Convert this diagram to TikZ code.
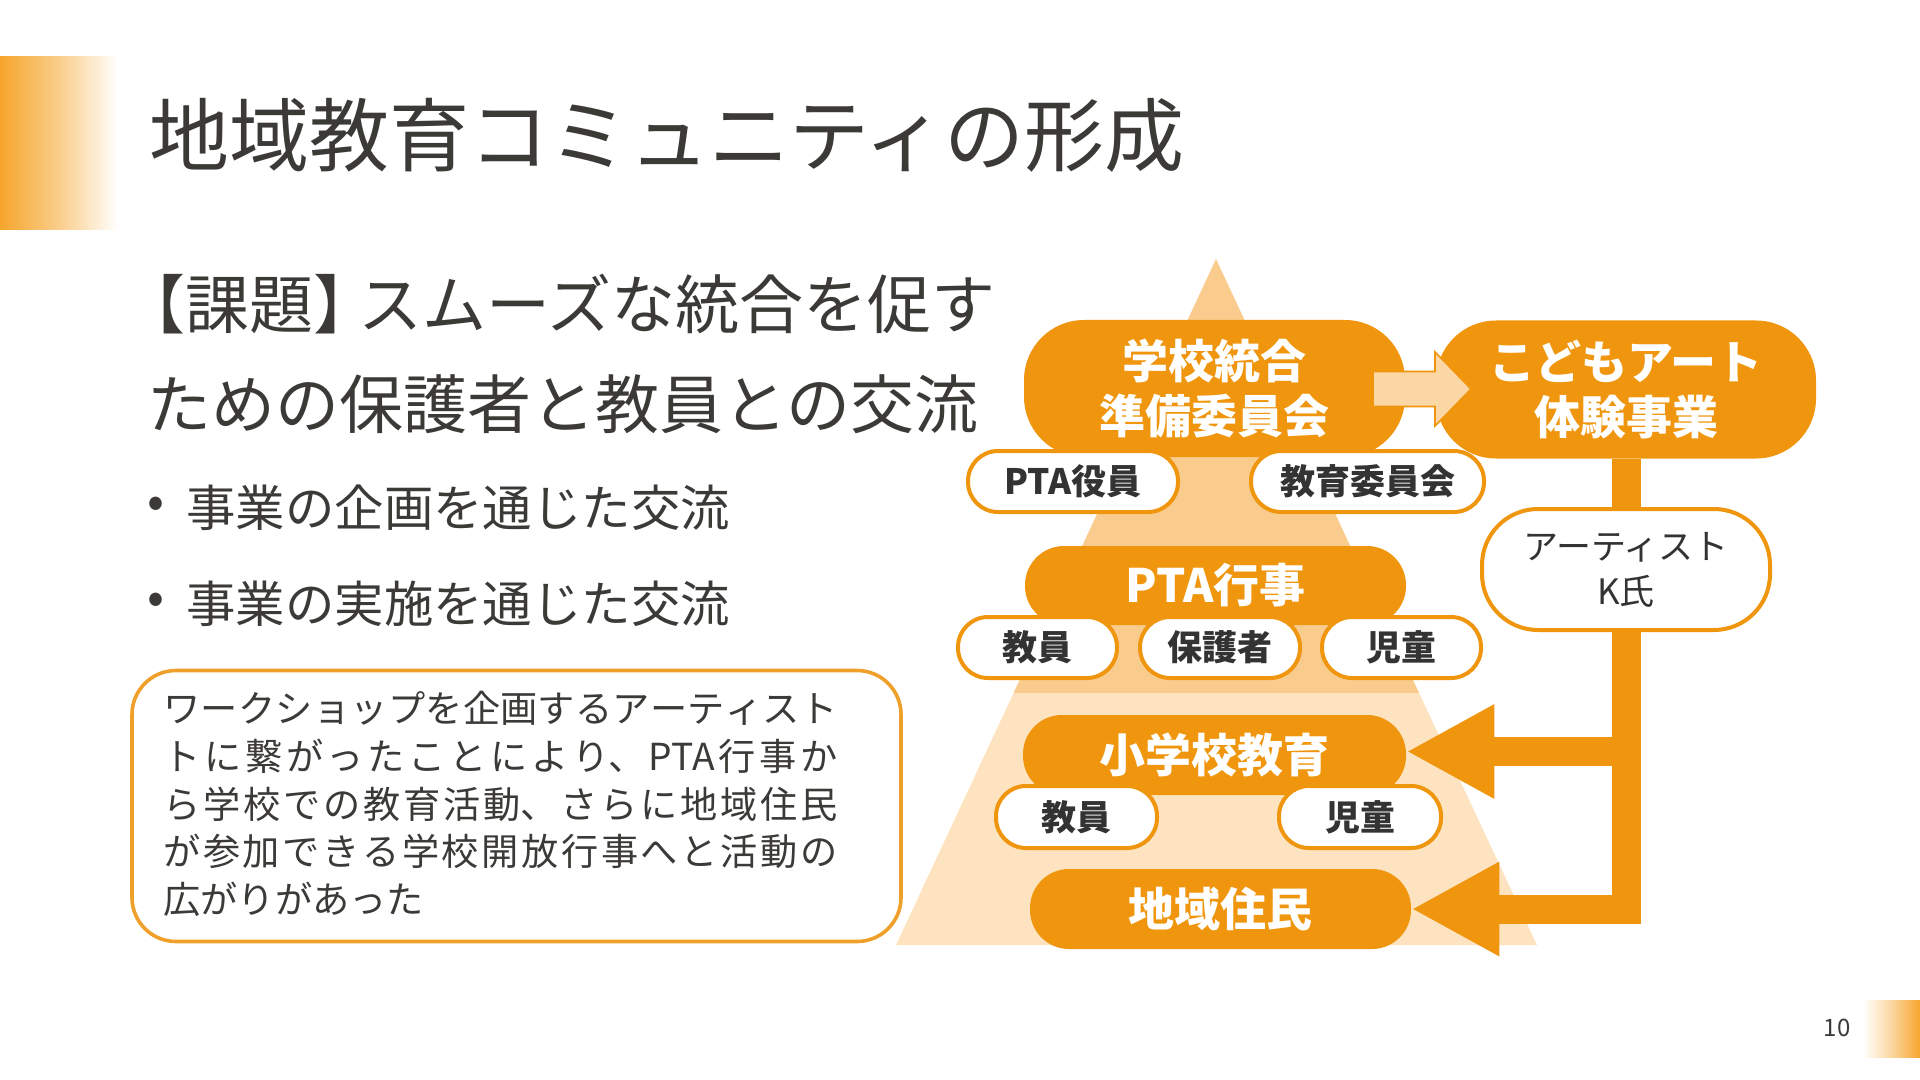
\documentclass[tikz,border=0pt]{standalone}
\usepackage{fontspec}
\setmainfont{Noto Sans CJK JP}
\usetikzlibrary{arrows.meta,backgrounds}
\XeTeXlinebreaklocale "ja"
\XeTeXlinebreakskip=0pt plus 3pt
\definecolor{org}{HTML}{F0960E}
\definecolor{pkm}{HTML}{F9CC8E}
\definecolor{pkl}{HTML}{FDE3BF}
\definecolor{arw}{HTML}{FBD7A5}
\definecolor{txt}{HTML}{3C3A37}
\definecolor{lbl}{HTML}{333333}
\definecolor{boxc}{HTML}{EEA02A}
\definecolor{grad}{HTML}{F6A52C}
\begin{document}
\begin{tikzpicture}[x=0.5pt,y=-0.5pt,
  opill/.style={fill=org, inner sep=0pt, text=white, align=center, font=\bfseries\fontsize{23}{27.5}\selectfont},
  wpill/.style={fill=white, draw=org, line width=2pt, inner sep=0pt, text=lbl, align=center, font=\bfseries\fontsize{17.5}{22}\selectfont, minimum height=30.5pt, rounded corners=15pt},
  ttl/.style={text=txt, inner sep=0pt, anchor=west},
  conn/.style={org, line width=14.5pt, -{Triangle[length=44pt,width=44pt]}}
]
\useasboundingbox (0,0) rectangle (1920,1080);

% corner decorations
\shade[left color=grad, right color=white, middle color=grad!55] (0,57) rectangle (118,230);
\shade[left color=white, right color=grad, middle color=grad!45] (1863,1000) rectangle (1920,1057);

% left texts
\node[ttl, font=\fontsize{40}{48}\selectfont] (title) at (149,135) {地域教育コミュニティの形成};
\node[ttl, font=\fontsize{32}{38}\selectfont] (h1) at (147,304) {\kern-0.4em【課題】\kern-0.3emスムーズな統合を促す};
\node[ttl, font=\fontsize{32}{38}\selectfont] (h2) at (147,404) {ための保護者と教員との交流};
\node[text=txt, inner sep=0pt, font=\fontsize{25}{30}\selectfont] (b1d) at (156,508) {•};
\node[ttl, font=\fontsize{24.7}{30}\selectfont] (b1) at (186,508) {事業の企画を通じた交流};
\node[text=txt, inner sep=0pt, font=\fontsize{25}{30}\selectfont] (b2d) at (156,604) {•};
\node[ttl, font=\fontsize{24.7}{30}\selectfont] (b2) at (186,604) {事業の実施を通じた交流};

\node[draw=boxc, line width=1.8pt, rounded corners=22pt, minimum width=384.5pt, minimum height=135.5pt] (note) at (516.5,806) {};
\node[anchor=west, inner sep=0pt, text width=337pt, align=justify, text=txt,
      font=\fontsize{18.6}{23.9}\selectfont] (notetxt) at (163,804)
 {ワークショップを企画するアーティスト\linebreak トに繋がったことにより、PTA行事か\linebreak ら学校での教育活動、さらに地域住民\linebreak が参加できる学校開放行事へと活動の\linebreak 広がりがあった};

\node[text=txt, inner sep=0pt, font=\fontsize{12}{14}\selectfont] (pg) at (1837,1028) {10};

% orange nodes
\node[opill, minimum width=190.5pt, minimum height=68.5pt, rounded corners=30pt] (jt) at (1214.5,388.5) {学校統合\\準備委員会};
\node[opill, minimum width=190pt, minimum height=69pt, rounded corners=30pt] (kd) at (1626,389.5) {こどもアート\\体験事業};
\node[opill, minimum width=190.5pt, minimum height=39.5pt, rounded corners=19.5pt] (pta) at (1215.5,585.5) {PTA行事};
\node[opill, minimum width=191.5pt, minimum height=40pt, rounded corners=19.5pt] (sho) at (1214.5,755) {小学校教育};
\node[opill, minimum width=190.5pt, minimum height=40pt, rounded corners=19.5pt] (chi) at (1220.5,909) {地域住民};

% white nodes
\node[wpill, minimum width=105pt] (pyk) at (1073,481.5) {PTA役員};
\node[wpill, minimum width=116.5pt] (kik) at (1367.5,481.5) {教育委員会};
\node[wpill, minimum width=79.5pt] (t1) at (1037.5,647.5) {教員};
\node[wpill, minimum width=80pt] (p1) at (1220,647.5) {保護者};
\node[wpill, minimum width=79.5pt] (c1) at (1401.5,647.5) {児童};
\node[wpill, minimum width=80.5pt, minimum height=31pt] (t2) at (1076.5,817) {教員};
\node[wpill, minimum width=81pt, minimum height=31pt] (c2) at (1360,817) {児童};
\node[wpill, minimum width=144pt, minimum height=60.5pt, rounded corners=28pt,
      font=\fontsize{17.5}{22.5}\selectfont] (art) at (1626,569.5) {アーティスト\\K氏};

% block arrow between the two top nodes
\filldraw[fill=arw, draw=org, line width=0.8pt] (1373,371.5) -- (1435,371.5) -- (1435,352) -- (1471,389)
  -- (1435,426) -- (1435,406.5) -- (1373,406.5) -- cycle;

% background: pyramid and connectors
\begin{scope}[on background layer]
  \begin{scope}
    \clip (1216,259) -- (1537,945) -- (896,945) -- cycle;
    \fill[pkm] (880,250) rectangle (1560,693);
    \fill[pkl] (880,693) rectangle (1560,950);
  \end{scope}
  \draw[conn] (kd.south) -- (kd.south |- chi.east) -- (chi.east);
  \coordinate (br) at (1626,751.5);
  \draw[conn] (br) -- (br -| sho.east);
\end{scope}
\end{tikzpicture}
\end{document}
